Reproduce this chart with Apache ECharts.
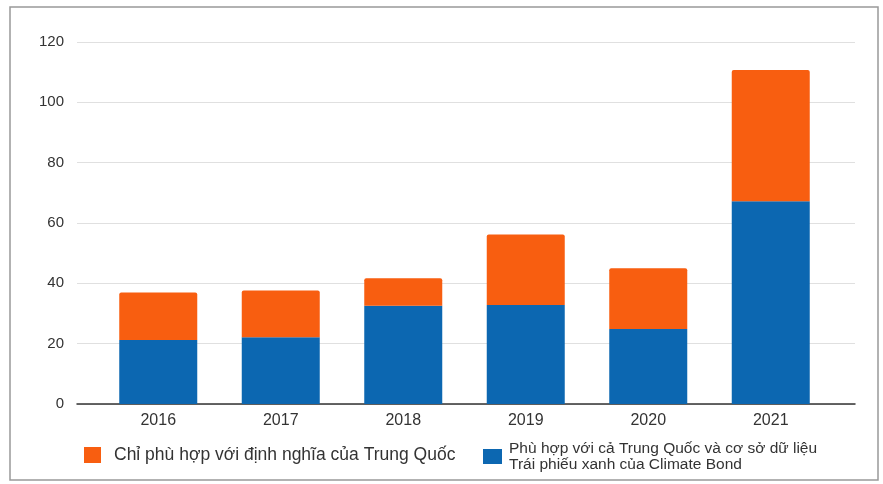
<!DOCTYPE html>
<html>
<head>
<meta charset="utf-8">
<script src="https://cdn.jsdelivr.net/npm/echarts@6/dist/echarts.min.js"></script>
<style>
  html, body { margin: 0; padding: 0; background: #fff; }
  #chart { width: 883px; height: 484px; }
</style>
</head>
<body>
<div id="chart"></div>
<script>
// years on the x axis
const years = ['2016', '2017', '2018', '2019', '2020', '2021'];
// bottom part: matches both China and Climate Bonds definitions
const bothValues = [21.2, 22.1, 32.6, 32.8, 24.9, 67.2];
// top part: matches only the Chinese definition
const chinaOnlyValues = [15.8, 15.5, 9.1, 23.4, 20.1, 43.5];
const yTicks = [0, 20, 40, 60, 80, 100, 120];

const nameChina = 'Chỉ phù hợp với định nghĩa của Trung Quốc';
const nameBoth = 'Phù hợp với cả Trung Quốc và cơ sở dữ liệu\nTrái phiếu xanh của Climate Bond';

const chart = echarts.init(document.getElementById('chart'));

const font = 'Liberation Sans, Arial, sans-serif';

const option = {
  animation: false,
  textStyle: { fontFamily: font },
  graphic: [{
    type: 'rect',
    shape: { x: 10, y: 7, width: 868, height: 473 },
    style: { fill: 'none', stroke: '#999', lineWidth: 1.5 },
    silent: true
  }],
  legend: [
    {
      left: 84, top: 446, padding: 0,
      itemWidth: 17, itemHeight: 16,
      icon: 'rect',
      data: [nameChina],
      textStyle: { fontSize: 17.5, color: '#333', fontFamily: font, padding: [0, 0, 0, 8] }
    },
    {
      left: 483, top: 440, padding: 0,
      itemWidth: 19, itemHeight: 15,
      icon: 'rect',
      data: [nameBoth],
      textStyle: { fontSize: 15.5, color: '#333', fontFamily: font, lineHeight: 16.5, padding: [0, 0, 0, 2] }
    }
  ],
  // grid 0 holds the y axis labels and gridlines, grid 1 holds the bars
  grid: [
    { left: 77, right: 28, top: 42, bottom: 80 },
    { left: 97, right: 51, top: 42, bottom: 80 }
  ],
  xAxis: [
    {
      gridIndex: 0, type: 'value', min: 0, max: 1,
      axisLine: { show: true, lineStyle: { color: '#333', width: 1.5 } },
      axisTick: { show: false }, axisLabel: { show: false }, splitLine: { show: false }
    },
    {
      gridIndex: 1, type: 'category', data: years,
      axisLine: { show: false }, axisTick: { show: false },
      axisLabel: { fontSize: 16, color: '#333', margin: 9 }
    }
  ],
  yAxis: [
    {
      gridIndex: 0, type: 'value', min: 0, max: yTicks[yTicks.length - 1], interval: 20,
      axisLine: { show: false }, axisTick: { show: false },
      axisLabel: { fontSize: 15, color: '#333', margin: 13 },
      splitLine: { lineStyle: { color: '#e0e0e0', width: 1 } }
    },
    {
      gridIndex: 1, type: 'value', min: 0, max: yTicks[yTicks.length - 1], interval: 20,
      show: false
    }
  ],
  series: [
    {
      name: nameBoth, type: 'bar', stack: 'total',
      xAxisIndex: 1, yAxisIndex: 1,
      barWidth: 78,
      itemStyle: { color: '#0C67B1' },
      data: bothValues
    },
    {
      name: nameChina, type: 'bar', stack: 'total',
      xAxisIndex: 1, yAxisIndex: 1,
      barWidth: 78,
      itemStyle: { color: '#F85E10', borderRadius: [2, 2, 0, 0] },
      data: chinaOnlyValues
    }
  ]
};

chart.setOption(option);
</script>
</body>
</html>
